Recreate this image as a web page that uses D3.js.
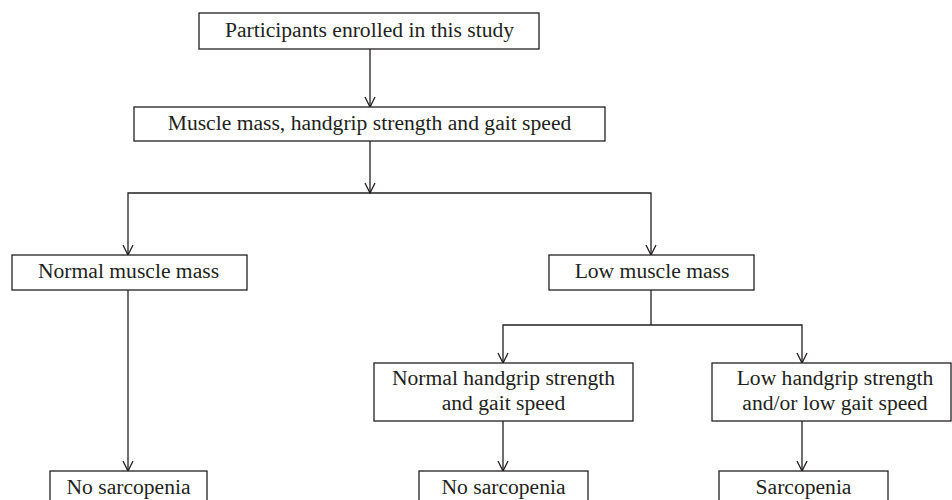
<!DOCTYPE html>
<html>
<head>
<meta charset="utf-8">
<script src="https://cdn.jsdelivr.net/npm/d3@7"></script>
<style>
  body { margin: 0; background: #fff; }
  svg { display: block; }
</style>
</head>
<body>
<div id="flow"></div>
<script>
// flowchart content
var nodeIds = ["enrolled", "measure", "normalMass", "lowMass", "normalGrip", "lowGrip", "noSarcA", "noSarcB", "sarc"];
var nodeText = [
  ["Participants enrolled in this study"],
  ["Muscle mass, handgrip strength and gait speed"],
  ["Normal muscle mass"],
  ["Low muscle mass"],
  ["Normal handgrip strength", "and gait speed"],
  ["Low handgrip strength", "and/or low gait speed"],
  ["No sarcopenia"],
  ["No sarcopenia"],
  ["Sarcopenia"]
];
var links = [
  ["enrolled", "measure"],
  ["measure", "normalMass"],
  ["measure", "lowMass"],
  ["normalMass", "noSarcA"],
  ["lowMass", "normalGrip"],
  ["lowMass", "lowGrip"],
  ["normalGrip", "noSarcB"],
  ["lowGrip", "sarc"]
];

// layout (pixels): box edges, text centre, connector x
var layout = {
  enrolled:   {x0: 199, x1: 539, y0: 13,  y1: 49,  tx: 369.5, px: 370},
  measure:    {x0: 134, x1: 605, y0: 107, y1: 141, tx: 369.5, px: 370},
  normalMass: {x0: 12,  x1: 247, y0: 255, y1: 290, tx: 128.5, px: 128},
  lowMass:    {x0: 549, x1: 754, y0: 255, y1: 290, tx: 652,   px: 651},
  normalGrip: {x0: 374, x1: 633, y0: 363, y1: 421, tx: 503.5, px: 503},
  lowGrip:    {x0: 712, x1: 951, y0: 363, y1: 421, tx: 835,   px: 802},
  noSarcA:    {x0: 50,  x1: 207, y0: 471, y1: 506, tx: 128.5, px: 128},
  noSarcB:    {x0: 419, x1: 588, y0: 471, y1: 506, tx: 503.5, px: 503},
  sarc:       {x0: 719, x1: 888, y0: 471, y1: 506, tx: 803.5, px: 802}
};
// where a parent splits into two branches
var branchY = {measure: 193, lowMass: 325};
var branchArrow = {measure: true, lowMass: false};

var width = 952, height = 500;
var ink = "#231f20";
var fontSize = 21.6, lineGap = 25;

var svg = d3.select("#flow")
  .append("svg")
    .attr("width", width)
    .attr("height", height);

var nodes = nodeIds.map(function(id, i) {
  return Object.assign({id: id, lines: nodeText[i]}, layout[id]);
});
var byId = {};
nodes.forEach(function(n) { byId[n.id] = n; });

var line = d3.line();

function arrowHead(g, x, y) {
  g.append("path")
    .attr("d", line([[x - 5, y - 10], [x, y], [x + 5, y - 10]]))
    .attr("fill", "none")
    .attr("stroke", ink)
    .attr("stroke-width", 1.3);
}

var conn = svg.append("g");
var drawnTrunk = {};

links.forEach(function(l) {
  var s = byId[l[0]], t = byId[l[1]];
  var by = branchY[s.id];
  if (by === undefined) {
    conn.append("path")
      .attr("d", line([[s.px, s.y1], [t.px, t.y0]]))
      .attr("stroke", ink).attr("stroke-width", 1.3).attr("fill", "none");
    arrowHead(conn, t.px, t.y0);
    return;
  }
  if (!drawnTrunk[s.id]) {
    drawnTrunk[s.id] = true;
    conn.append("path")
      .attr("d", line([[s.px, s.y1], [s.px, by]]))
      .attr("stroke", ink).attr("stroke-width", 1.3).attr("fill", "none");
    if (branchArrow[s.id]) arrowHead(conn, s.px, by);
  }
  conn.append("path")
    .attr("d", line([[s.px, by], [t.px, by], [t.px, t.y0]]))
    .attr("stroke", ink).attr("stroke-width", 1.3).attr("fill", "none");
  arrowHead(conn, t.px, t.y0);
});

var box = svg.selectAll("g.node")
  .data(nodes)
  .enter()
  .append("g")
    .attr("class", "node");

box.append("rect")
  .attr("x", function(d) { return d.x0; })
  .attr("y", function(d) { return d.y0; })
  .attr("width", function(d) { return d.x1 - d.x0; })
  .attr("height", function(d) { return d.y1 - d.y0; })
  .attr("fill", "#fff")
  .attr("stroke", ink)
  .attr("stroke-width", 1.3);

box.each(function(d) {
  var g = d3.select(this);
  var cy = (d.y0 + d.y1) / 2 + 5.5;
  var first = cy - (d.lines.length - 1) * lineGap / 2;
  d.lines.forEach(function(txt, i) {
    g.append("text")
      .attr("x", d.tx)
      .attr("y", first + i * lineGap)
      .attr("text-anchor", "middle")
      .style("font-family", "'Liberation Serif', 'DejaVu Serif', serif")
      .style("font-size", fontSize + "px")
      .style("fill", ink)
      .text(txt);
  });
});
</script>
</body>
</html>
